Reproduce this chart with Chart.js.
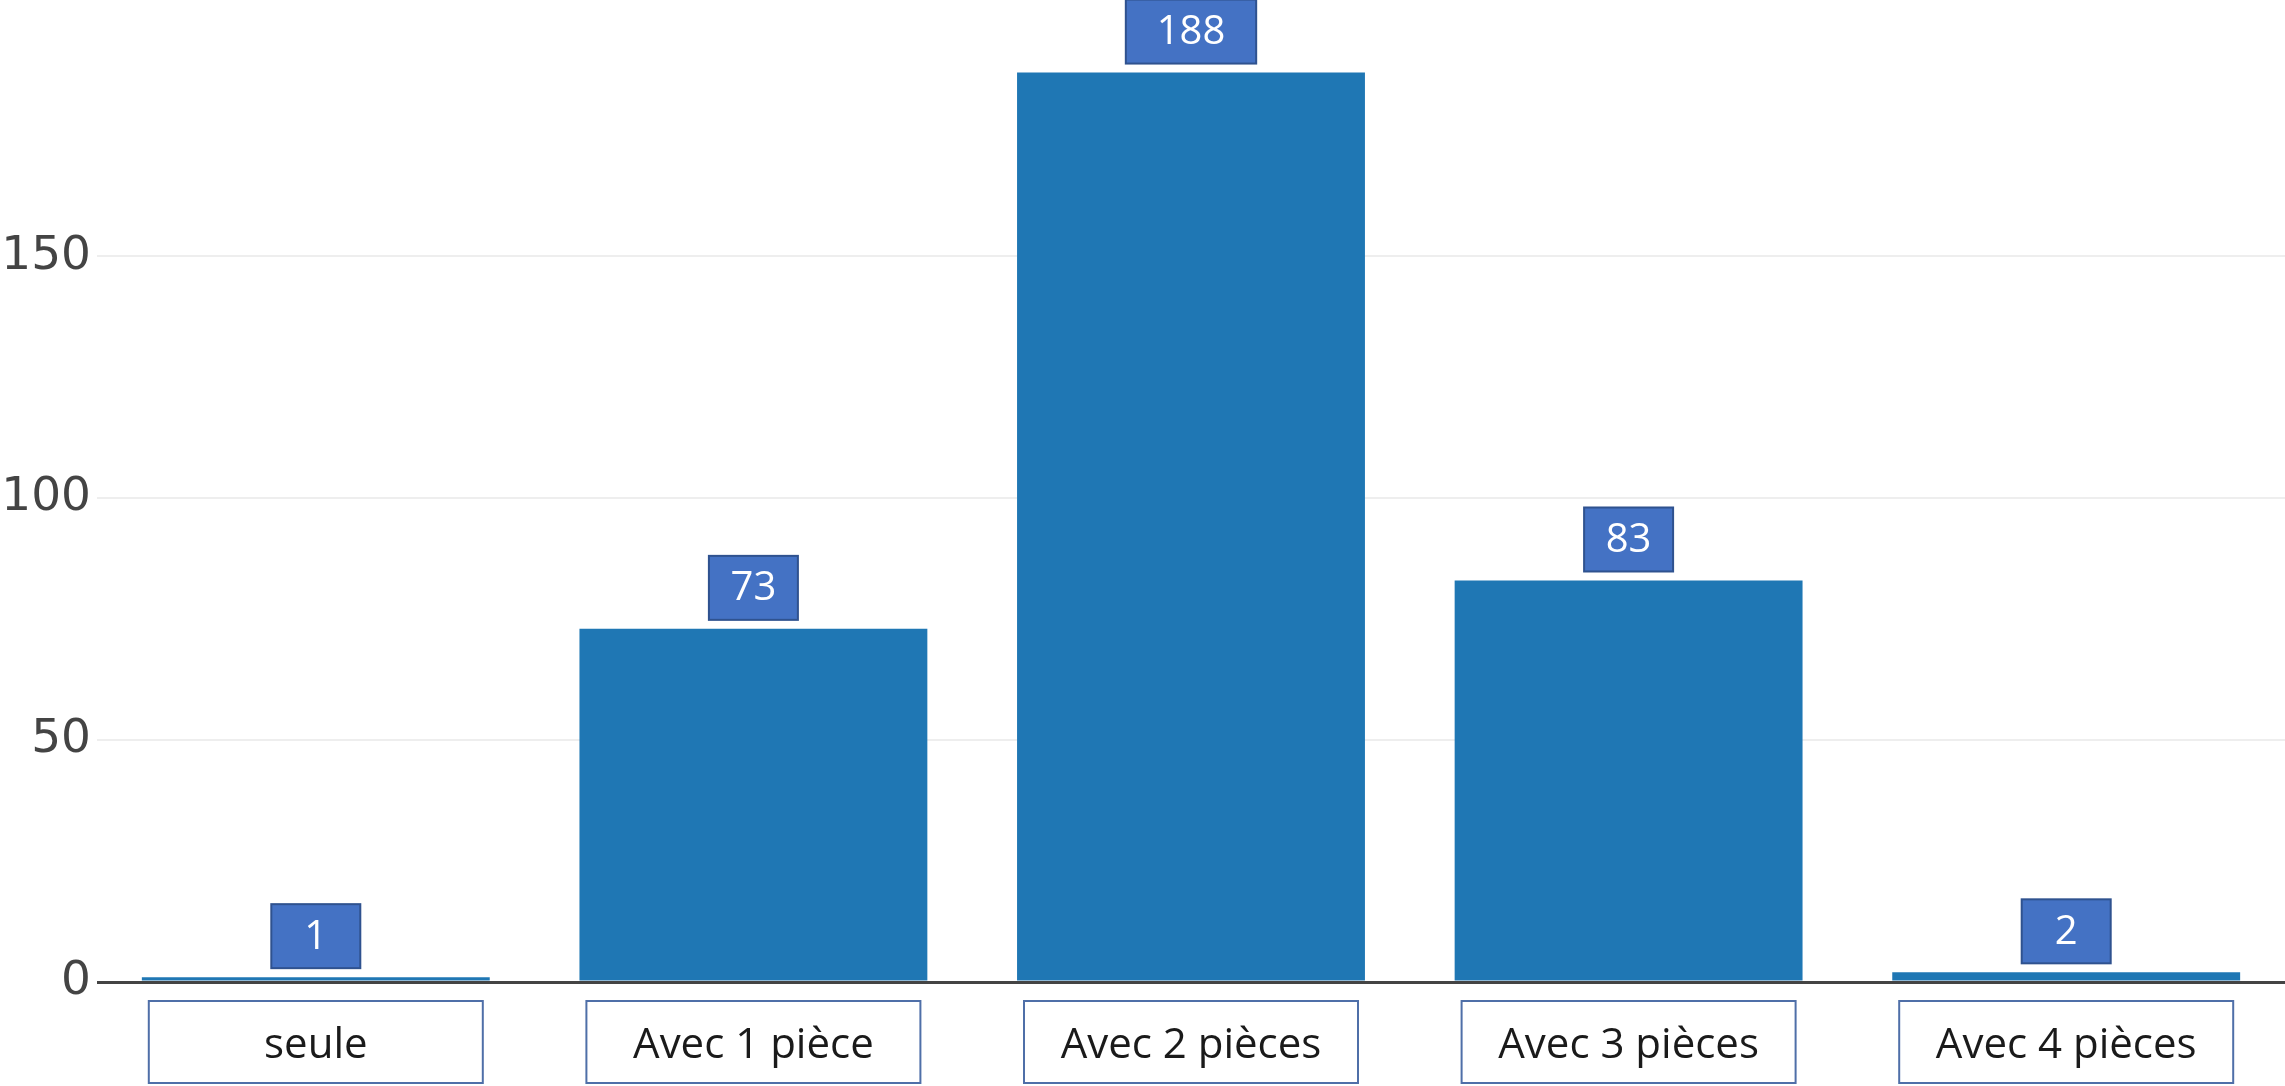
<!DOCTYPE html>
<html>
<head>
<meta charset="utf-8">
<script src="https://cdn.jsdelivr.net/npm/chart.js@4/dist/chart.umd.min.js"></script>
<style>
    html, body { margin: 0; padding: 0; background: #fff; }
    #wrap { width: 2285px; height: 1086px; position: relative; }
</style>
</head>
<body>
<div id="wrap"><canvas id="chart"></canvas></div>
<script>
const categories = ["seule", "Avec 1 pièce", "Avec 2 pièces", "Avec 3 pièces", "Avec 4 pièces"];
const counts = [1, 73, 188, 83, 2];
const yTicks = [0, 50, 100, 150];

// value boxes above the bars + framed category labels
const boxes = {
    id: "boxes",
    afterDatasetsDraw(chart) {
        const ctx = chart.ctx;
        const meta = chart.getDatasetMeta(0);
        ctx.save();
        ctx.font = "40px 'Open Sans'";
        meta.data.forEach((bar, i) => {
            const txt = String(counts[i]);
            const tw = ctx.measureText(txt).width;
            const w = Math.max(89, tw * 1.9);
            const h = 64;
            const x = bar.x - w / 2;
            const y = bar.y - 9 - h;
            ctx.fillStyle = "#4472C4";
            ctx.fillRect(x, y, w, h);
            ctx.strokeStyle = "#2F528F";
            ctx.lineWidth = 2;
            ctx.strokeRect(x, y, w, h);
            ctx.fillStyle = "#fff";
            ctx.textAlign = "center";
            ctx.textBaseline = "middle";
            ctx.fillText(txt, bar.x, y + h / 2 + 1);
        });
        ctx.restore();
    },
    afterDraw(chart) {
        const ctx = chart.ctx;
        const xs = chart.scales.x;
        ctx.save();
        ctx.strokeStyle = "#4F6FA8";
        ctx.lineWidth = 2;
        categories.forEach((c, i) => {
            const cx = xs.getPixelForTick(i);
            ctx.strokeRect(cx - 167, 1001, 334, 82);
        });
        ctx.restore();
    }
};

new Chart(document.getElementById("chart").getContext("2d"), {
    type: "bar",
    data: {
        labels: categories,
        datasets: [{
            data: counts,
            backgroundColor: "#1f77b4",
            borderWidth: 0,
            barPercentage: 0.795,
            categoryPercentage: 1
        }]
    },
    options: {
        responsive: true,
        maintainAspectRatio: false,
        animation: false,
        layout: { padding: 0 },
        plugins: {
            legend: { display: false },
            tooltip: { enabled: false }
        },
        scales: {
            x: {
                grid: { display: false, drawTicks: false },
                border: { display: false },
                ticks: {
                    color: "#1a1a1a",
                    font: { family: "'Open Sans'", size: 42 },
                    padding: 39,
                    maxRotation: 0
                },
                afterFit: (scale) => {
                    scale.height = 104;
                    scale.paddingLeft = 0;
                    scale.paddingRight = 0;
                }
            },
            y: {
                min: 0,
                max: 203,
                afterBuildTicks: (scale) => {
                    scale.ticks = yTicks.map(v => ({ value: v }));
                },
                grid: {
                    drawTicks: false,
                    color: (c) => c.tick && c.tick.value === 0 ? "#444" : "#eeeeee",
                    lineWidth: (c) => c.tick && c.tick.value === 0 ? 3 : 2
                },
                border: { display: false },
                ticks: {
                    color: "#444",
                    font: { family: "'DejaVu Sans'", size: 47 },
                    padding: 6
                },
                afterFit: (scale) => {
                    scale.width = 97;
                    scale.paddingTop = 0;
                    scale.paddingBottom = 0;
                }
            }
        }
    },
    plugins: [boxes]
});
</script>
</body>
</html>
